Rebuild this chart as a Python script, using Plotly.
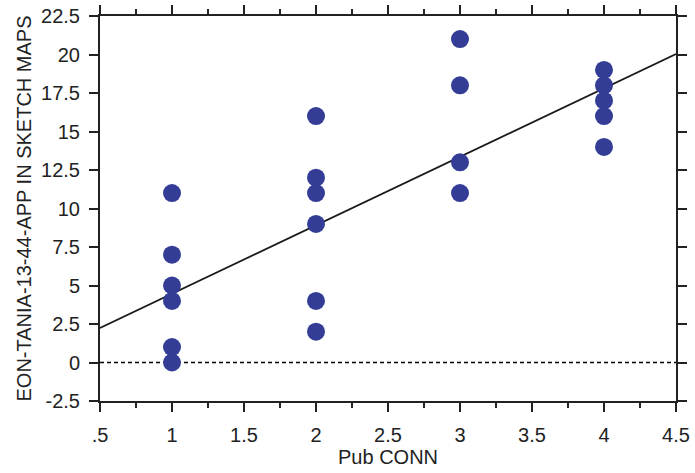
import plotly.graph_objects as go

# data
x_vals = [1, 1, 1, 1, 1, 1,
          2, 2, 2, 2, 2, 2,
          3, 3, 3, 3,
          4, 4, 4, 4, 4]
y_vals = [11, 7, 5, 4, 1, 0,
          16, 12, 11, 9, 4, 2,
          21, 18, 13, 11,
          19, 18, 17, 16, 14]
fit_x = [0.5, 4.5]
fit_y = [2.24, 20.03]
ref_x = [0.5, 4.5]
ref_y = [0, 0]

x_tickvals = [0.5, 1, 1.5, 2, 2.5, 3, 3.5, 4, 4.5]
x_ticktext = [".5", "1", "1.5", "2", "2.5", "3", "3.5", "4", "4.5"]
y_tickvals = [-2.5, 0, 2.5, 5, 7.5, 10, 12.5, 15, 17.5, 20, 22.5]
y_ticktext = ["-2.5", "0", "2.5", "5", "7.5", "10", "12.5", "15", "17.5", "20", "22.5"]

FONT = "Liberation Sans, Arial, sans-serif"
FS = 20

fig = go.Figure()
fig.add_trace(go.Scatter(x=ref_x, y=ref_y, mode="lines",
                         line=dict(color="black", width=1.5, dash="4px,3px"),
                         hoverinfo="skip", showlegend=False))
fig.add_trace(go.Scatter(x=fit_x, y=fit_y, mode="lines",
                         line=dict(color="#1a1a1a", width=1.8),
                         showlegend=False))
fig.add_trace(go.Scatter(x=x_vals, y=y_vals, mode="markers",
                         marker=dict(color="#333d96", size=18, line=dict(width=0)),
                         showlegend=False))

fig.update_layout(
    width=695, height=473,
    margin=dict(l=100, r=19, t=16, b=72),
    plot_bgcolor="white", paper_bgcolor="white",
    font=dict(family=FONT, size=FS, color="#222"),
    xaxis=dict(range=[0.5, 4.5], tickvals=x_tickvals, ticktext=x_ticktext,
               showgrid=False, zeroline=False, showline=True, linecolor="#222",
               linewidth=2, ticks="outside", ticklen=9, tickwidth=2, tickcolor="#222",
               mirror="ticks", automargin=False, ticklabelstandoff=6,
               minor=dict(ticks="outside", ticklen=5, tickwidth=2, tickcolor="#222",
                          dtick=0.25, tick0=0.5, showgrid=False),
               title=dict(text="Pub CONN", font=dict(size=FS), standoff=0),
               tickfont=dict(size=FS)),
    yaxis=dict(range=[-2.5, 22.5], tickvals=y_tickvals, ticktext=y_ticktext,
               showgrid=False, zeroline=False, showline=True, linecolor="#222",
               linewidth=2, ticks="outside", ticklen=9, tickwidth=2, tickcolor="#222",
               mirror="ticks", automargin=False, ticklabelstandoff=5,
               title=dict(text="EON-TANIA-13-44-APP IN SKETCH MAPS", font=dict(size=FS),
                          standoff=4),
               tickfont=dict(size=FS)),
)

fig.write_html("out.html")
